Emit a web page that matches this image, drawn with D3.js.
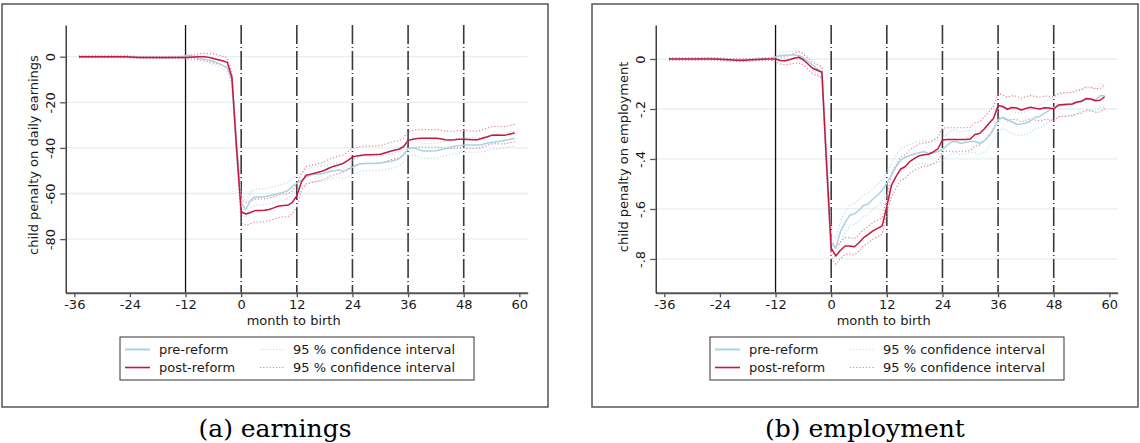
<!DOCTYPE html>
<html>
<head>
<meta charset="utf-8">
<script src="https://cdn.jsdelivr.net/npm/d3@7"></script>
<style>
  body { margin: 0; background: #fff; }
  svg text { font-family: "DejaVu Sans", sans-serif; fill: #1a1a1a; }
</style>
</head>
<body>
<svg id="fig" width="1140" height="443"></svg>
<script>
// child penalty event study: two panels, month -35 .. 59

const months = d3.range(-35, 60);
const xTicks = [-36, -24, -12, 0, 12, 24, 36, 48, 60];
const dashedMonths = [0, 12, 24, 36, 48];
const solidMonth = -12;

// ---- earnings panel ----
const earnTicks = [0, -20, -40, -60, -80];
const earnPre = [
  0,0,0,0,0,0,0,0,0,0,0,0,-0.1,-0.2,-0.3,-0.3,-0.4,-0.5,-0.6,-0.5,-0.4,-0.3,-0.2,
  0.4,0.4,0,-0.8,-1.1,-1.5,-2,-2.8,-3.8,-5,-10,-40,
  -64,-67,-63,-61.5,-61.5,-61.5,-61,-60.5,-60,-59.5,
  -58.8,-57,-55.5,-54.2,-52.8,-51.8,-51.5,-51.4,-51,-50.5,
  -50,-49.7,-50.3,-49.5,-48.5,-47.5,-46.8,-46.8,-46.8,-46.8,
  -46.6,-46.3,-46,-45.5,-44.8,-43,-40.3,-39.8,-40.5,-41.3,
  -41.4,-41.4,-41.2,-40.8,-40.3,-39.8,-39.3,-39,-38.8,-38.7,
  -38.7,-38.7,-38.5,-38,-37.6,-37.3,-37,-36.6,-36.2,-35.8
];
const earnPost = [
  0,0,0,0,0,0,0,0,0,0,0,-0.1,-0.2,-0.3,-0.3,-0.3,-0.4,-0.4,-0.4,-0.3,-0.3,-0.3,-0.3,
  -0.3,-0.2,-0.1,0,0,-0.3,-0.8,-1.3,-1.8,-2.5,-9,-40,
  -68,-69,-68.3,-67.5,-67.5,-67.3,-67,-66.3,-65.6,-65.3,
  -65.2,-64,-61,-55,-52,-51.5,-51,-50.5,-49.8,-48.8,
  -48,-47.5,-46.8,-45.5,-44,-43.5,-43.2,-43,-43,-42.9,
  -42.8,-42.2,-41.6,-41,-40.6,-39.5,-36.7,-36.2,-35.9,-35.8,
  -35.8,-35.8,-35.8,-36,-36.4,-36.5,-36.4,-36.2,-36.2,-36.3,
  -36.4,-36.4,-35.8,-35.2,-34.5,-34.3,-34.5,-34.4,-33.9,-33.5
];
// half width of the 95 % interval
const earnPreCI = [
  0.3,0.3,0.3,0.3,0.3,0.3,0.3,0.3,0.3,0.3,0.3,0.3,0.3,0.3,0.3,0.3,0.3,0.3,0.3,0.3,0.3,0.3,0.3,
  0.5,0.6,0.8,1,1.2,1.3,1.4,1.5,1.6,1.7,2,2.5,
  3.5,3.5,3.5,3.5,3.5,3.5,3.5,3.5,3.5,3.5,
  3.5,3.5,3.2,3.2,3.2,3.2,3.2,3.2,3.2,3.2,
  3.2,3.2,3.2,3.2,3.2,3.2,3.2,3.2,3.2,3.2,
  3.2,3.2,3.2,3.2,3.2,3.2,3.2,3.2,3.2,3.2,
  3.2,3.2,3.2,3.2,3.2,3.2,3.2,3.2,3.2,3.2,
  3.2,3.2,3.2,3.2,3.2,3.2,3.2,3.2,3.2,3.2
];
const earnPostCI = [
  0.4,0.4,0.4,0.4,0.4,0.4,0.4,0.4,0.4,0.4,0.4,0.4,0.4,0.4,0.4,0.4,0.4,0.4,0.4,0.4,0.4,0.4,0.4,
  0.6,0.8,1,1.3,1.5,1.8,2,2,2,2,2.2,3,
  5,5,5,5,5,5,5,5,5,5,
  5,5,5,3.8,3.8,3.8,3.8,3.8,3.8,3.8,
  3.8,3.8,3.8,3.8,3.8,3.8,3.8,3.8,3.8,3.8,
  3.8,3.8,3.8,3.8,3.8,3.8,3.8,3.8,3.8,3.8,
  3.8,3.8,3.8,3.8,3.8,3.8,3.8,3.8,3.8,3.8,
  3.8,3.8,3.8,3.8,3.8,3.8,3.8,3.8,3.8,3.8
];

// ---- employment panel ----
const empTicks = [0, -0.2, -0.4, -0.6, -0.8];
const empPre = [
  0,0,0,0,0,0,0,0.002,0.003,0.002,0,0,-0.002,-0.003,-0.004,-0.005,-0.004,-0.003,-0.002,-0.001,0,0,0,
  0.008,0.014,0.015,0.016,0.016,0.014,0.005,-0.01,-0.024,-0.04,-0.055,-0.4,
  -0.737,-0.757,-0.69,-0.655,-0.625,-0.62,-0.605,-0.585,-0.58,-0.56,
  -0.545,-0.525,-0.497,-0.465,-0.43,-0.405,-0.393,-0.386,-0.38,-0.375,
  -0.37,-0.378,-0.375,-0.37,-0.362,-0.345,-0.331,-0.33,-0.338,-0.333,
  -0.33,-0.33,-0.337,-0.328,-0.31,-0.28,-0.245,-0.233,-0.242,-0.252,
  -0.261,-0.26,-0.256,-0.248,-0.233,-0.23,-0.218,-0.206,-0.194,-0.188,
  -0.186,-0.182,-0.18,-0.172,-0.166,-0.162,-0.161,-0.163,-0.146,-0.147
];
const empPost = [
  0,0,0,0,0,0,0,0,0,0,0,-0.001,-0.002,-0.003,-0.004,-0.005,-0.005,-0.004,-0.003,-0.002,-0.001,0,0,
  0,-0.006,-0.007,-0.003,0.003,0.007,-0.003,-0.02,-0.037,-0.045,-0.053,-0.42,
  -0.757,-0.788,-0.765,-0.748,-0.748,-0.751,-0.735,-0.715,-0.702,-0.688,
  -0.678,-0.668,-0.59,-0.505,-0.47,-0.44,-0.43,-0.41,-0.398,-0.387,
  -0.383,-0.381,-0.372,-0.36,-0.324,-0.322,-0.322,-0.322,-0.322,-0.322,
  -0.32,-0.302,-0.298,-0.28,-0.258,-0.238,-0.186,-0.19,-0.201,-0.194,
  -0.196,-0.204,-0.198,-0.193,-0.197,-0.2,-0.195,-0.196,-0.2,-0.184,
  -0.182,-0.181,-0.18,-0.172,-0.17,-0.158,-0.16,-0.167,-0.165,-0.151
];
const empPreCI = [
  0.004,0.004,0.004,0.004,0.004,0.004,0.004,0.004,0.004,0.004,0.004,0.004,0.004,0.004,0.004,0.004,0.004,0.004,0.004,0.004,0.004,0.004,0.004,
  0.01,0.012,0.014,0.015,0.016,0.017,0.018,0.019,0.02,0.02,0.022,0.03,
  0.04,0.04,0.042,0.042,0.042,0.042,0.042,0.042,0.042,0.042,
  0.042,0.042,0.045,0.045,0.045,0.045,0.045,0.045,0.045,0.045,
  0.045,0.045,0.045,0.045,0.045,0.045,0.045,0.045,0.045,0.045,
  0.045,0.045,0.045,0.045,0.045,0.045,0.045,0.045,0.045,0.045,
  0.045,0.045,0.045,0.045,0.045,0.045,0.045,0.045,0.045,0.045,
  0.045,0.045,0.045,0.045,0.045,0.045,0.045,0.045,0.045,0.045
];
const empPostCI = [
  0.005,0.005,0.005,0.005,0.005,0.005,0.005,0.005,0.005,0.005,0.005,0.005,0.005,0.005,0.005,0.005,0.005,0.005,0.005,0.005,0.005,0.005,0.005,
  0.012,0.014,0.016,0.018,0.02,0.022,0.022,0.022,0.022,0.022,0.022,0.03,
  0.033,0.033,0.033,0.033,0.033,0.033,0.033,0.033,0.033,0.033,
  0.033,0.033,0.033,0.047,0.047,0.047,0.047,0.047,0.047,0.047,
  0.047,0.047,0.047,0.047,0.047,0.047,0.047,0.047,0.047,0.047,
  0.047,0.047,0.047,0.047,0.047,0.047,0.047,0.047,0.047,0.047,
  0.047,0.047,0.047,0.047,0.047,0.047,0.047,0.047,0.047,0.047,
  0.047,0.047,0.047,0.047,0.047,0.047,0.047,0.047,0.047,0.047
];

const legendLabels = ["pre-reform", "post-reform", "95 % confidence interval", "95 % confidence interval"];

const COL_PRE = "#a9d2e3";
const COL_POST = "#c8163f";
const COL_PRE_CI = "#bcdde9";
const COL_POST_CI = "#e5809a";

const svg = d3.select("#fig");

function drawPanel(p) {
  const ox = p.ox;
  const plot = { left: ox + 65.7, right: ox + 527.7, top: 25, bottom: 292.7 };

  const x = d3.scaleLinear().domain([-37.85, 61.8]).range([plot.left, plot.right]);
  const y = d3.scaleLinear().domain(p.yDomain).range([plot.bottom, plot.top]);

  const g = svg.append("g");

  // outer frame
  g.append("rect")
    .attr("x", ox + 2).attr("y", 4)
    .attr("width", 546).attr("height", 403)
    .attr("fill", "none").attr("stroke", "#555").attr("stroke-width", 1.5);

  // grid
  g.append("g").selectAll("line")
    .data(p.ticks)
    .join("line")
    .attr("x1", plot.left).attr("x2", plot.right)
    .attr("y1", d => y(d)).attr("y2", d => y(d))
    .attr("stroke", "#e5eff0").attr("stroke-width", 1.3);

  // reference lines
  g.append("line")
    .attr("x1", x(solidMonth)).attr("x2", x(solidMonth))
    .attr("y1", plot.top).attr("y2", plot.bottom)
    .attr("stroke", "#111").attr("stroke-width", 1.3);

  g.append("g").selectAll("line")
    .data(dashedMonths)
    .join("line")
    .attr("x1", d => x(d)).attr("x2", d => x(d))
    .attr("y1", plot.top).attr("y2", plot.bottom)
    .attr("stroke", "#3a3a3a").attr("stroke-width", 1.6)
    .attr("stroke-dasharray", "19,3,1,3");

  const line = d3.line().x((d, i) => x(months[i])).y(d => y(d));
  const band = (vals, hw, sign) => vals.map((v, i) => v + sign * hw[i]);

  const series = [
    { vals: p.pre, ci: p.preCI, col: COL_PRE, ciCol: COL_PRE_CI, w: 1.5 },
    { vals: p.post, ci: p.postCI, col: COL_POST, ciCol: COL_POST_CI, w: 1.5 }
  ];

  // confidence bands (dotted)
  series.forEach(s => {
    [1, -1].forEach(sign => {
      g.append("path")
        .attr("d", line(band(s.vals, s.ci, sign)))
        .attr("fill", "none")
        .attr("stroke", s.ciCol)
        .attr("stroke-width", 1.2)
        .attr("stroke-dasharray", "1.2,2");
    });
  });

  series.forEach(s => {
    g.append("path")
      .attr("d", line(s.vals))
      .attr("fill", "none")
      .attr("stroke", s.col)
      .attr("stroke-width", s.w)
      .attr("stroke-linejoin", "round");
  });

  // x axis (plain hyphen for negatives, like the original)
  const xAxis = g.append("g")
    .attr("transform", `translate(0,${plot.bottom})`)
    .call(d3.axisBottom(x).tickValues(xTicks).tickFormat(d => String(d))
      .tickSize(4.5).tickSizeOuter(0).tickPadding(3));
  xAxis.select(".domain").attr("stroke", "#555").attr("stroke-width", 2);
  xAxis.selectAll(".tick line").attr("stroke", "#555").attr("stroke-width", 1.3);
  xAxis.selectAll("text").attr("font-size", 13).attr("fill", "#1a1a1a");

  // y axis
  const yAxis = g.append("g")
    .attr("transform", `translate(${plot.left},0)`)
    .call(d3.axisLeft(y).tickValues(p.ticks).tickFormat(p.fmt).tickSize(5.5).tickSizeOuter(0));
  yAxis.select(".domain").attr("stroke", "#111").attr("stroke-width", 1.2);
  yAxis.selectAll(".tick line").attr("stroke", "#555").attr("stroke-width", 1.3);
  yAxis.selectAll("text")
    .attr("x", null).attr("dy", null)
    .attr("transform", "translate(-11,0) rotate(-90)")
    .attr("text-anchor", "middle")
    .attr("font-size", 13).attr("fill", "#1a1a1a");

  // titles
  g.append("text")
    .attr("x", (plot.left + plot.right) / 2 - 3).attr("y", 325)
    .attr("text-anchor", "middle").attr("font-size", 13)
    .text("month to birth");

  g.append("text")
    .attr("transform", `translate(${ox + 37.5},${p.yTitleY}) rotate(-90)`)
    .attr("text-anchor", "middle").attr("font-size", 13)
    .text(p.yTitle);

  // legend
  const lg = g.append("g").attr("transform", `translate(${ox + 120},337)`);
  lg.append("rect")
    .attr("width", 354).attr("height", 43)
    .attr("fill", "#fff").attr("stroke", "#333").attr("stroke-width", 1);

  const rows = [
    { col: COL_PRE, dash: null, w: 2, lx: 5, tx: 39, label: legendLabels[0], ry: 12.5 },
    { col: COL_POST, dash: null, w: 1.6, lx: 5, tx: 39, label: legendLabels[1], ry: 30.5 },
    { col: COL_PRE_CI, dash: "1.2,2", w: 1.2, lx: 140, tx: 173, label: legendLabels[2], ry: 12.5 },
    { col: COL_POST_CI, dash: "1.2,2", w: 1.2, lx: 140, tx: 173, label: legendLabels[3], ry: 30.5 }
  ];
  rows.forEach(r => {
    lg.append("line")
      .attr("x1", r.lx).attr("x2", r.lx + 25)
      .attr("y1", r.ry).attr("y2", r.ry)
      .attr("stroke", r.col).attr("stroke-width", r.w)
      .attr("stroke-dasharray", r.dash);
    lg.append("text")
      .attr("x", r.tx).attr("y", r.ry + 4.6)
      .attr("font-size", 13)
      .text(r.label);
  });

  // caption
  svg.append("text")
    .attr("x", ox + 275).attr("y", 437)
    .attr("text-anchor", "middle")
    .style("font-family", "'DejaVu Serif', serif")
    .attr("font-size", 25)
    .style("fill", "#000")
    .text(p.caption);
}

drawPanel({
  ox: 0,
  yDomain: [-103.5, 13.9],
  ticks: earnTicks,
  fmt: d => String(d),
  pre: earnPre, post: earnPost, preCI: earnPreCI, postCI: earnPostCI,
  yTitle: "child penalty on daily earnings",
  yTitleY: 155,
  caption: "(a) earnings"
});

drawPanel({
  ox: 590,
  yDomain: [-0.935, 0.136],
  ticks: empTicks,
  fmt: d => d === 0 ? "0" : String(d).replace("0.", "."),
  pre: empPre, post: empPost, preCI: empPreCI, postCI: empPostCI,
  yTitle: "child penalty on employment",
  yTitleY: 157,
  caption: "(b) employment"
});
</script>
</body>
</html>
